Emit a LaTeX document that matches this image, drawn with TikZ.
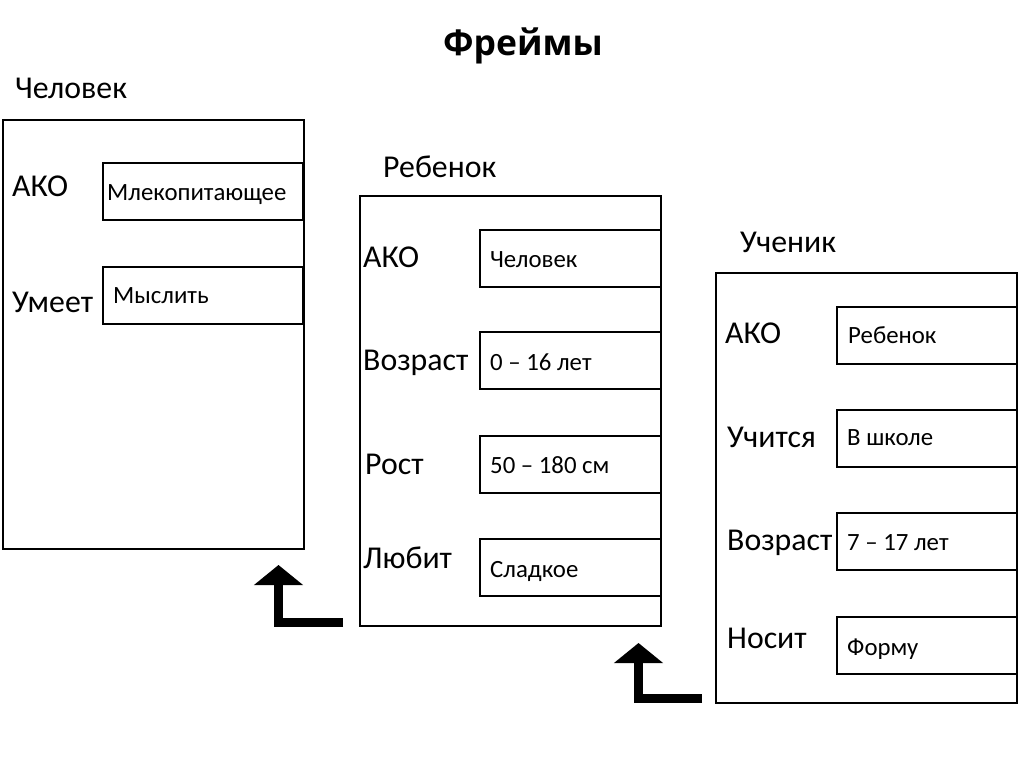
\documentclass[tikz,border=0pt]{standalone}
\usepackage{fontspec}
\setmainfont{Carlito}
\newfontfamily\titlefont{Open Sans}
\usetikzlibrary{arrows.meta}
\tikzset{
  frame/.style={draw, line width=2pt, anchor=north west, inner sep=0pt},
  slot/.style={draw, line width=2pt, anchor=north west, inner sep=0pt, minimum width=200pt, minimum height=57pt},
  ftitle/.style={anchor=base west, inner sep=0pt, font=\fontsize{31.8}{38}\selectfont},
  lab/.style={anchor=base west, inner sep=0pt, font=\fontsize{31.8}{38}\selectfont},
  val/.style={anchor=base west, inner sep=0pt, font=\fontsize{24.8}{30}\selectfont},
  inherit/.style={line width=9pt, line join=miter, -{Triangle[width=48pt,length=20pt]}},
}
\begin{document}
\begin{tikzpicture}[x=1pt,y=-1pt]
\useasboundingbox (0,0) rectangle (1024,767);
\node[anchor=base, inner sep=0pt, font=\titlefont\bfseries\fontsize{35.5}{42}\selectfont] (title) at (523,56) {Фреймы};

% Frame 1
\node[ftitle] (t1) at (15,99) {Человек};
\node[frame, minimum width=301pt, minimum height=429pt] (f1) at (2,119) {};
\node[slot] (b11) at (102,162) {};
\node[slot] (b12) at (102,266) {};
\node[lab] (l11) at (12,197) {АКО};
\node[lab] (l12) at (12,312) {Умеет};
\node[val] (v11) at (107,201) {Млекопитающее};
\node[val] (v12) at (113,303) {Мыслить};

% Frame 2
\node[ftitle] (t2) at (383,178) {Ребенок};
\node[frame, minimum width=301pt, minimum height=430pt] (f2) at (359,195) {};
\node[slot, minimum width=181pt] (b21) at (479,229) {};
\node[slot, minimum width=181pt] (b22) at (479,331) {};
\node[slot, minimum width=181pt] (b23) at (479,435) {};
\node[slot, minimum width=181pt] (b24) at (479,538) {};
\node[lab] (l21) at (363,267) {АКО};
\node[lab] (l22) at (363,370) {Возраст};
\node[lab] (l23) at (365,474) {Рост};
\node[lab] (l24) at (363,568) {Любит};
\node[val] (v21) at (490,267) {Человек};
\node[val] (v22) at (490,370) {0 – 16 лет};
\node[val] (v23) at (490,473) {50 – 180 см};
\node[val] (v24) at (490,577) {Сладкое};

% Frame 3
\node[ftitle] (t3) at (740,252) {Ученик};
\node[frame, minimum width=301pt, minimum height=430pt] (f3) at (715,272) {};
\node[slot, minimum width=180pt] (b31) at (836,306) {};
\node[slot, minimum width=180pt] (b32) at (836,409) {};
\node[slot, minimum width=180pt] (b33) at (836,512) {};
\node[slot, minimum width=180pt] (b34) at (836,616) {};
\node[lab] (l31) at (725,343) {АКО};
\node[lab] (l32) at (727,447) {Учится};
\node[lab] (l33) at (727,550) {Возраст};
\node[lab] (l34) at (727,648) {Носит};
\node[val] (v31) at (848,343) {Ребенок};
\node[val] (v32) at (847,445) {В школе};
\node[val] (v33) at (847,550) {7 – 17 лет};
\node[val] (v34) at (847,655) {Форму};

% inheritance arrows
\coordinate (a1s) at (343,622);
\coordinate (a1e) at (278.5,565);
\coordinate (a2s) at (702,698.5);
\coordinate (a2e) at (638.5,643);
\draw[inherit] (a1s) -| (a1e);
\draw[inherit] (a2s) -| (a2e);
\end{tikzpicture}
\end{document}
